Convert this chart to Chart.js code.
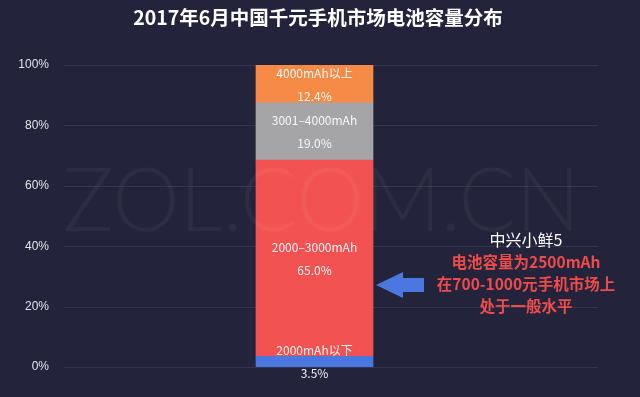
<!DOCTYPE html>
<html>
<head>
<meta charset="utf-8">
<script src="https://cdn.jsdelivr.net/npm/chart.js@4"></script>
<style>
  html, body { margin: 0; padding: 0; background: #23243b; }
  canvas { display: block; }
</style>
</head>
<body>
<canvas id="chart" width="640" height="397"></canvas>
<script>
const titleText = '2017年6月中国千元手机市场电池容量分布';
const categories = ['2017年6月'];
const segmentNames = ['2000mAh以下', '2000–3000mAh', '3001–4000mAh', '4000mAh以上'];
const segmentValues = [3.5, 65.0, 19.0, 12.4];
const segmentColors = ['#4a78e0', '#f25352', '#a5a5a7', '#f68b47'];
const noteLines = ['中兴小鲜5', '电池容量为2500mAh', '在700-1000元手机市场上', '处于一般水平'];

const cjk = '"Noto Sans CJK SC", "Noto Sans", sans-serif';

const datasets = segmentNames.map((name, i) => ({
  label: name,
  data: [segmentValues[i]],
  backgroundColor: segmentColors[i],
  borderWidth: 0,
  barThickness: 117
}));

// gridlines run a bit past the plot area on the right
const gridPlugin = {
  id: 'grid',
  beforeDatasetsDraw(chart) {
    const { ctx, chartArea, scales } = chart;
    ctx.save();
    ctx.strokeStyle = '#34354f';
    ctx.lineWidth = 1;
    scales.y.ticks.forEach(t => {
      const y = Math.round(scales.y.getPixelForValue(t.value)) + 0.5;
      ctx.beginPath();
      ctx.moveTo(chartArea.left, y);
      ctx.lineTo(598, y);
      ctx.stroke();
    });
    ctx.restore();
  }
};

const decoPlugin = {
  id: 'deco',
  afterDatasetsDraw(chart) {
    const { ctx } = chart;
    // watermark
    ctx.save();
    ctx.font = '300 88px Lato, "DejaVu Sans", sans-serif';
    const wm = 'ZOL.COM.CN';
    const w = ctx.measureText(wm).width;
    ctx.translate(63, 231);
    ctx.scale(517 / w, 1);
    ctx.fillStyle = 'rgba(255,255,255,0.045)';
    ctx.textBaseline = 'alphabetic';
    ctx.fillText(wm, 0, 0);
    ctx.restore();

    // segment labels
    ctx.save();
    ctx.font = '12px ' + cjk;
    ctx.fillStyle = 'rgba(255,255,255,0.92)';
    ctx.textAlign = 'center';
    ctx.textBaseline = 'middle';
    chart.data.datasets.forEach((ds, i) => {
      const bar = chart.getDatasetMeta(i).data[0];
      const mid = (bar.y + bar.base) / 2;
      ctx.fillText(segmentNames[i], bar.x, mid - 11);
      ctx.fillText(segmentValues[i].toFixed(1) + '%', bar.x, mid + 12);
    });
    ctx.restore();
  },
  afterDraw(chart) {
    const { ctx } = chart;
    ctx.save();
    // title
    ctx.font = 'bold 19.5px ' + cjk;
    ctx.fillStyle = '#ffffff';
    ctx.textAlign = 'center';
    ctx.textBaseline = 'middle';
    ctx.fillText(titleText, 318, 18);

    // arrow pointing at the 2000-3000 segment
    ctx.fillStyle = '#4a78e0';
    ctx.beginPath();
    ctx.moveTo(376, 285);
    ctx.lineTo(403, 272);
    ctx.lineTo(403, 278);
    ctx.lineTo(424, 278);
    ctx.lineTo(424, 292);
    ctx.lineTo(403, 292);
    ctx.lineTo(403, 298);
    ctx.closePath();
    ctx.fill();

    // note
    ctx.font = '16px ' + cjk;
    ctx.fillStyle = '#ffffff';
    ctx.fillText(noteLines[0], 526, 240);
    ctx.font = 'bold 15.5px ' + cjk;
    ctx.fillStyle = '#ef4b4b';
    ctx.fillText(noteLines[1], 526, 262);
    ctx.fillText(noteLines[2], 526, 284);
    ctx.fillText(noteLines[3], 526, 306);
    ctx.restore();
  }
};

new Chart(document.getElementById('chart'), {
  type: 'bar',
  data: { labels: categories, datasets },
  options: {
    responsive: false,
    animation: false,
    layout: { padding: { top: 65, right: 75, bottom: 30, left: 0 } },
    plugins: {
      legend: { display: false },
      tooltip: { enabled: false },
      title: { display: false }
    },
    scales: {
      x: {
        stacked: true,
        display: false
      },
      y: {
        stacked: true,
        min: 0,
        max: 100,
        ticks: {
          stepSize: 20,
          padding: 7,
          color: '#e2e2e8',
          font: { family: '"Liberation Sans", Roboto, sans-serif', size: 12 },
          callback: v => v + '%'
        },
        grid: { display: false },
        border: { display: false },
        afterFit(scale) { scale.width = 64; }
      }
    }
  },
  plugins: [gridPlugin, decoPlugin]
});
</script>
</body>
</html>
